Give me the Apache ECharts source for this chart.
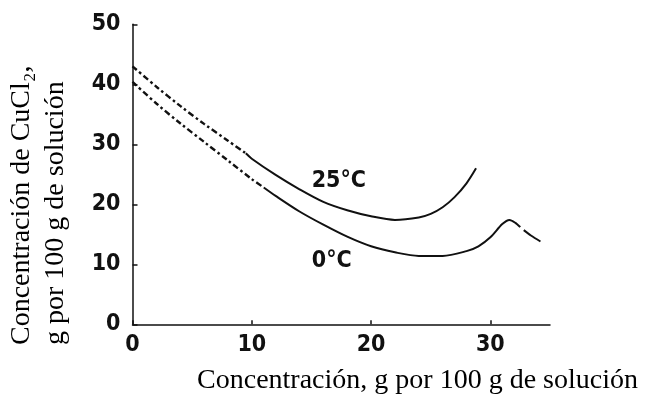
<!DOCTYPE html>
<html>
<head>
<meta charset="utf-8">
<script src="https://cdn.jsdelivr.net/npm/echarts@6/dist/echarts.min.js"></script>
<style>
  html, body { margin: 0; padding: 0; background: #fff; }
  #chart { width: 655px; height: 405px; }
</style>
</head>
<body>
<div id="chart"></div>
<script>
// Solubility curves of CuCl2 (g per 100 g solution) at two temperatures
const xTicks = [0, 10, 20, 30];
const yTicks = [0, 10, 20, 30, 40, 50];

// 25 °C curve: dash-dot (extrapolated) start, then solid
const curve25Dashed = [[0, 43.0], [2, 39.6], [4, 36.4], [6, 33.4], [8, 30.6], [9.5, 28.5]];
const curve25Solid = [[9.5, 28.5], [10, 27.6], [12, 24.9], [14, 22.5], [16, 20.4], [18, 19.0],
  [20, 18.0], [22, 17.4], [24, 17.8], [25, 18.4], [26, 19.5], [27, 21.2], [28, 23.5], [28.8, 26.0]];

// 0 °C curve: dash-dot start, solid middle, short tail after a break
const curve0Dashed = [[0, 40.4], [2, 36.8], [4, 33.5], [6, 30.4], [8, 27.3], [10, 24.2], [11, 22.8]];
const curve0Solid = [[11, 22.8], [12, 21.4], [14, 18.8], [16, 16.6], [18, 14.6], [20, 13.0],
  [22, 12.0], [24, 11.4], [26, 11.4], [28, 12.2], [29, 13.0], [30, 14.5], [31, 16.7],
  [31.6, 17.4], [32.1, 16.9], [32.5, 16.2]];
const curve0Tail = [[32.8, 15.7], [33.4, 14.8], [34.2, 13.8]];

const curveLabels = [
  { name: '25°C', coord: [17.3, 23.8] },
  { name: '0°C', coord: [16.7, 10.5] }
];

const ink = '#111';
const tickFont = '"DejaVu Sans Condensed", "DejaVu Sans", sans-serif';
const serif = 'Liberation Serif, Times New Roman, serif';
const dashDot = [6, 3, 2.5, 3];

function line(data, dashed, extra) {
  return Object.assign({
    type: 'line',
    data: data,
    showSymbol: false,
    symbol: 'none',
    smooth: 0.3,
    silent: true,
    lineStyle: { color: ink, width: dashed ? 2.4 : 2, type: dashed ? dashDot : 'solid' }
  }, extra || {});
}

const labelStyle = { color: ink, fontSize: 23, fontWeight: 'bold', fontFamily: tickFont };

const chart = echarts.init(document.getElementById('chart'), null, { renderer: 'canvas' });
chart.setOption({
  backgroundColor: '#fff',
  animation: false,
  grid: { left: 132.5, right: 105, top: 24.3, bottom: 80.7 },
  xAxis: {
    type: 'value', min: 0, max: 35, interval: 10,
    axisLine: { lineStyle: { color: ink, width: 1.5 } },
    axisTick: { inside: true, length: 4, lineStyle: { color: ink, width: 1.5 }, customValues: xTicks },
    axisLabel: Object.assign({ customValues: xTicks, margin: 9 }, labelStyle),
    splitLine: { show: false }
  },
  yAxis: {
    type: 'value', min: 0, max: 50, interval: 10,
    axisLine: { show: true, lineStyle: { color: ink, width: 1.5 } },
    axisTick: { show: true, inside: true, length: 5, lineStyle: { color: ink, width: 1.5 }, customValues: yTicks },
    axisLabel: Object.assign({ customValues: yTicks, margin: 12 }, labelStyle),
    splitLine: { show: false }
  },
  series: [
    line(curve25Dashed, true),
    line(curve25Solid, false, {
      markPoint: {
        symbol: 'circle', symbolSize: 0,
        label: Object.assign({ show: true, position: 'inside', formatter: '{b}' }, labelStyle),
        data: [curveLabels[0]]
      }
    }),
    line(curve0Dashed, true),
    line(curve0Solid, false, {
      markPoint: {
        symbol: 'circle', symbolSize: 0,
        label: Object.assign({ show: true, position: 'inside', formatter: '{b}' }, labelStyle),
        data: [curveLabels[1]]
      }
    }),
    line(curve0Tail, false)
  ],
  graphic: [
    {
      type: 'text', x: 22, y: 345, rotation: Math.PI / 2,
      style: { text: 'Concentración de CuCl₂,', fill: '#000', font: '28px ' + serif, textAlign: 'left', textVerticalAlign: 'middle' }
    },
    {
      type: 'text', x: 56, y: 345, rotation: Math.PI / 2,
      style: { text: 'g por 100 g de solución', fill: '#000', font: '28px ' + serif, textAlign: 'left', textVerticalAlign: 'middle' }
    },
    {
      type: 'text', x: 417.5, y: 381,
      style: { text: 'Concentración, g por 100 g de solución', fill: '#000', font: '28px ' + serif, textAlign: 'center', textVerticalAlign: 'middle' }
    }
  ]
});
</script>
</body>
</html>
